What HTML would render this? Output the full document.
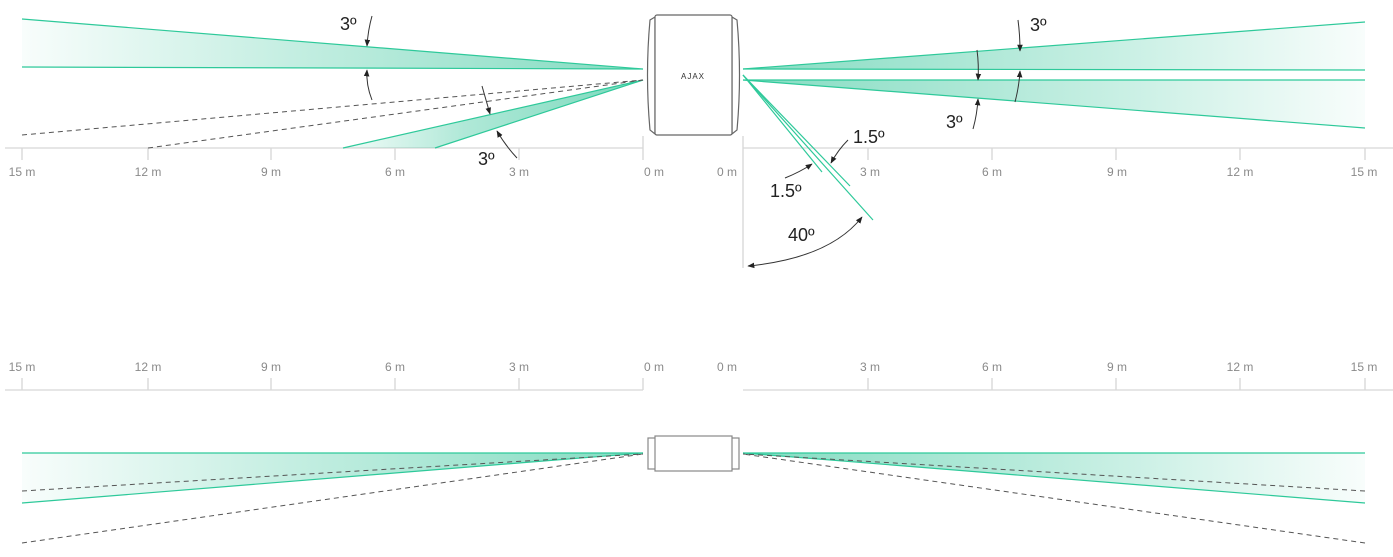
<!DOCTYPE html>
<html><head><meta charset="utf-8"><style>
html,body{margin:0;padding:0;background:#fff;width:1393px;height:557px;overflow:hidden}
svg{display:block}
.t{font-family:"Liberation Sans",sans-serif;font-size:12px;fill:#8a8a8a}
.a{font-family:"Liberation Sans",sans-serif;font-size:18px;fill:#222}
</style></head><body>
<svg width="1393" height="557" viewBox="0 0 1393 557" xmlns="http://www.w3.org/2000/svg">
<defs>
<linearGradient id="gl" x1="22" y1="0" x2="643" y2="0" gradientUnits="userSpaceOnUse">
<stop offset="0" stop-color="#1fbf8f" stop-opacity="0.03"/><stop offset="0.35" stop-color="#1fbf8f" stop-opacity="0.22"/><stop offset="1" stop-color="#1fbf8f" stop-opacity="0.55"/></linearGradient>
<linearGradient id="gr" x1="1365" y1="0" x2="743" y2="0" gradientUnits="userSpaceOnUse">
<stop offset="0" stop-color="#1fbf8f" stop-opacity="0.03"/><stop offset="0.35" stop-color="#1fbf8f" stop-opacity="0.22"/><stop offset="1" stop-color="#1fbf8f" stop-opacity="0.55"/></linearGradient>
<linearGradient id="gs" x1="343" y1="0" x2="643" y2="0" gradientUnits="userSpaceOnUse">
<stop offset="0" stop-color="#1fbf8f" stop-opacity="0.05"/><stop offset="0.4" stop-color="#1fbf8f" stop-opacity="0.35"/><stop offset="1" stop-color="#1fbf8f" stop-opacity="0.6"/></linearGradient>
<marker id="ar" viewBox="0 0 10 10" refX="9" refY="5" markerWidth="7" markerHeight="7" orient="auto-start-reverse"><path d="M0,1 L10,5 L0,9 z" fill="#222"/></marker>
</defs>
<g stroke="#d6d6d6" stroke-width="1.3" fill="none">
<line x1="5" y1="148" x2="643" y2="148"/><line x1="743" y1="148" x2="1393" y2="148"/>
<line x1="22" y1="148" x2="22" y2="160"/><line x1="148" y1="148" x2="148" y2="160"/><line x1="271" y1="148" x2="271" y2="160"/><line x1="395" y1="148" x2="395" y2="160"/><line x1="519" y1="148" x2="519" y2="160"/><line x1="643" y1="136" x2="643" y2="160"/>
<line x1="743" y1="136" x2="743" y2="268"/><line x1="868" y1="148" x2="868" y2="160"/><line x1="992" y1="148" x2="992" y2="160"/><line x1="1116" y1="148" x2="1116" y2="160"/><line x1="1240" y1="148" x2="1240" y2="160"/><line x1="1365" y1="148" x2="1365" y2="160"/>
<line x1="5" y1="390" x2="643" y2="390"/><line x1="743" y1="390" x2="1393" y2="390"/>
<line x1="22" y1="378" x2="22" y2="390"/><line x1="148" y1="378" x2="148" y2="390"/><line x1="271" y1="378" x2="271" y2="390"/><line x1="395" y1="378" x2="395" y2="390"/><line x1="519" y1="378" x2="519" y2="390"/><line x1="643" y1="378" x2="643" y2="390"/>
<line x1="868" y1="378" x2="868" y2="390"/><line x1="992" y1="378" x2="992" y2="390"/><line x1="1116" y1="378" x2="1116" y2="390"/><line x1="1240" y1="378" x2="1240" y2="390"/><line x1="1365" y1="378" x2="1365" y2="390"/>
</g>
<g class="t" text-anchor="middle">
<text x="22" y="176">15 m</text><text x="148" y="176">12 m</text><text x="271" y="176">9 m</text><text x="395" y="176">6 m</text><text x="519" y="176">3 m</text><text x="654" y="176">0 m</text>
<text x="727" y="176">0 m</text><text x="870" y="176">3 m</text><text x="992" y="176">6 m</text><text x="1117" y="176">9 m</text><text x="1240" y="176">12 m</text><text x="1364" y="176">15 m</text>
<text x="22" y="371">15 m</text><text x="148" y="371">12 m</text><text x="271" y="371">9 m</text><text x="395" y="371">6 m</text><text x="519" y="371">3 m</text><text x="654" y="371">0 m</text>
<text x="727" y="371">0 m</text><text x="870" y="371">3 m</text><text x="992" y="371">6 m</text><text x="1117" y="371">9 m</text><text x="1240" y="371">12 m</text><text x="1364" y="371">15 m</text>
</g>
<!-- top-left beams -->
<polygon points="22,19 643,69 22,67" fill="url(#gl)"/>
<g stroke="#2ec99a" stroke-width="1.2"><line x1="22" y1="19" x2="643" y2="69"/><line x1="22" y1="67" x2="643" y2="69"/></g>
<polygon points="343,148 643,80 435,148" fill="url(#gs)"/>
<g stroke="#2ec99a" stroke-width="1.2"><line x1="343" y1="148" x2="643" y2="80"/><line x1="435" y1="148" x2="643" y2="80"/></g>
<g stroke="#555" stroke-width="1" stroke-dasharray="5,4"><line x1="22" y1="135" x2="643" y2="80"/><line x1="148" y1="148" x2="643" y2="80"/></g>
<!-- top-right beams -->
<polygon points="743,69 1365,22 1365,70" fill="url(#gr)"/>
<polygon points="743,80 1365,80 1365,128" fill="url(#gr)"/>
<g stroke="#2ec99a" stroke-width="1.2">
<line x1="743" y1="69" x2="1365" y2="22"/><line x1="743" y1="69" x2="1365" y2="70"/>
<line x1="743" y1="80" x2="1365" y2="80"/><line x1="743" y1="80" x2="1365" y2="128"/>
<line x1="743" y1="75" x2="822" y2="172"/><line x1="743" y1="75" x2="850" y2="186"/><line x1="743" y1="75" x2="873" y2="220"/>
</g>
<!-- device top -->
<g fill="#fff" stroke="#666" stroke-width="1.2">
<path d="M655,17 L650,20 Q645,75 650,130 L655,134 Z"/>
<path d="M732,17 L737,20 Q742,75 737,130 L732,134 Z"/>
<rect x="655" y="15" width="77" height="120" rx="2"/>
</g>
<text x="693" y="79" text-anchor="middle" font-family="Liberation Sans,sans-serif" font-size="8" letter-spacing="1" fill="#333">AJAX</text>
<!-- angle annotations -->
<g stroke="#333" stroke-width="1" fill="none">
<path d="M372,16 Q368,30 367,46" marker-end="url(#ar)"/>
<path d="M372,100 Q366,85 367,70" marker-end="url(#ar)"/>
<path d="M482,86 Q486,100 490,114" marker-end="url(#ar)"/>
<path d="M517,158 Q505,145 497,131" marker-end="url(#ar)"/>
<path d="M1018,20 Q1020,35 1020,51" marker-end="url(#ar)"/>
<path d="M977,50 Q979,65 978,80" marker-end="url(#ar)"/>
<path d="M973,129 Q977,115 978,99" marker-end="url(#ar)"/>
<path d="M1015,102 Q1019,87 1020,71" marker-end="url(#ar)"/>
<path d="M848,140 Q838,150 831,163" marker-end="url(#ar)"/>
<path d="M785,178 Q800,172 812,164" marker-end="url(#ar)"/>
<path d="M748,266 Q830,258 862,217" marker-start="url(#ar)" marker-end="url(#ar)"/>
</g>
<g class="a">
<text x="340" y="30">3º</text><text x="478" y="165">3º</text>
<text x="1030" y="31">3º</text><text x="946" y="128">3º</text>
<text x="853" y="143">1.5º</text><text x="770" y="197">1.5º</text>
<text x="788" y="241">40º</text>
</g>
<!-- bottom beams -->
<polygon points="22,453 643,453 22,503" fill="url(#gl)"/>
<polygon points="1365,453 743,453 1365,503" fill="url(#gr)"/>
<g stroke="#2ec99a" stroke-width="1.2">
<line x1="22" y1="453" x2="643" y2="453"/><line x1="22" y1="503" x2="643" y2="453"/>
<line x1="743" y1="453" x2="1365" y2="453"/><line x1="743" y1="453" x2="1365" y2="503"/>
</g>
<g stroke="#555" stroke-width="1" stroke-dasharray="5,4">
<line x1="22" y1="491" x2="643" y2="454"/><line x1="22" y1="543" x2="643" y2="454"/>
<line x1="1365" y1="491" x2="743" y2="454"/><line x1="1365" y1="543" x2="743" y2="454"/>
</g>
<g fill="#fff" stroke="#888" stroke-width="1.2">
<rect x="648" y="438" width="8" height="31"/><rect x="731" y="438" width="8" height="31"/>
<rect x="655" y="436" width="77" height="35"/>
</g>
</svg>
</body></html>
